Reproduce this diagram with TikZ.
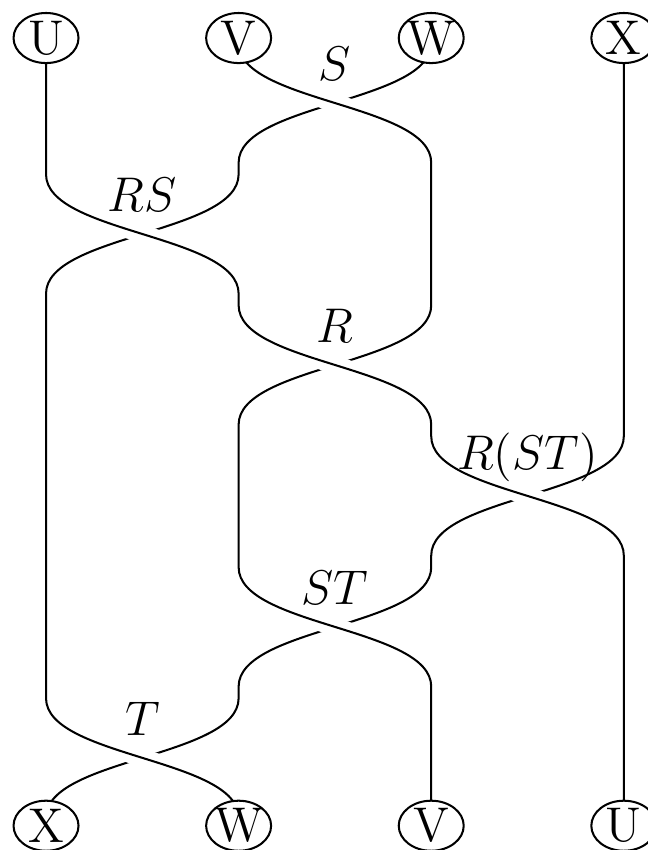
\documentclass[tikz,border=0pt]{standalone}
\usetikzlibrary{shapes.geometric,backgrounds}

\begin{document}
\begin{tikzpicture}[
    point/.style={ellipse,draw=black,fill=white,semithick,inner xsep=-1pt,inner ysep=0pt,
      minimum width=0.675cm,minimum height=0.52cm,font=\Large},
    strand/.style={semithick,preaction={draw=white,line width=5.3pt}},
    cross/.style={out=-90,in=90,looseness=0.67},
    tag/.style={font=\Large}
]
\useasboundingbox (-0.478,0.395) rectangle (6.251,-8.432);

\node[point] (U1) at (0,0) {U};
\node[point] (V1) at (2,0) {V};
\node[point] (W1) at (4,0) {W};
\node[point] (X1) at (6,0) {X};

\node[point] (X2) at (0,-8.18) {X};
\node[point] (W2) at (2,-8.18) {W};
\node[point] (V2) at (4,-8.18) {V};
\node[point] (U2) at (6,-8.18) {U};

\begin{pgfonlayer}{background}
% X is under everywhere, U over everywhere
\draw[strand] (X1.center) -- (6,-4.135) to[cross] (4,-5.375) -- (4,-5.495)
  to[cross] (2,-6.735) -- (2,-6.855) to[cross] (0,-8.095) -- (X2.center);
\draw[strand] (W1.center) -- (4,-0.055) to[cross] (2,-1.295) -- (2,-1.415)
  to[cross] (0,-2.655) -- (0,-6.855) to[cross] (2,-8.095) -- (W2.center);
\draw[strand] (V1.center) -- (2,-0.055) to[cross] (4,-1.295) -- (4,-2.775)
  to[cross] (2,-4.015) -- (2,-5.495) to[cross] (4,-6.735) -- (V2.center);
\draw[strand] (U1.center) -- (0,-1.415) to[cross] (2,-2.655) -- (2,-2.775)
  to[cross] (4,-4.015) -- (4,-4.135) to[cross] (6,-5.375) -- (U2.center);
\end{pgfonlayer}

\node[tag] (S) at (3,-0.27) {$S$};
\node[tag] (RS) at (1,-1.63) {$RS$};
\node[tag] (R) at (3,-2.99) {$R$};
\node[tag] (RST) at (5,-4.35) {$R(ST)$};
\node[tag] (ST) at (3,-5.71) {$ST$};
\node[tag] (T) at (1,-7.07) {$T$};

\end{tikzpicture}
\end{document}
